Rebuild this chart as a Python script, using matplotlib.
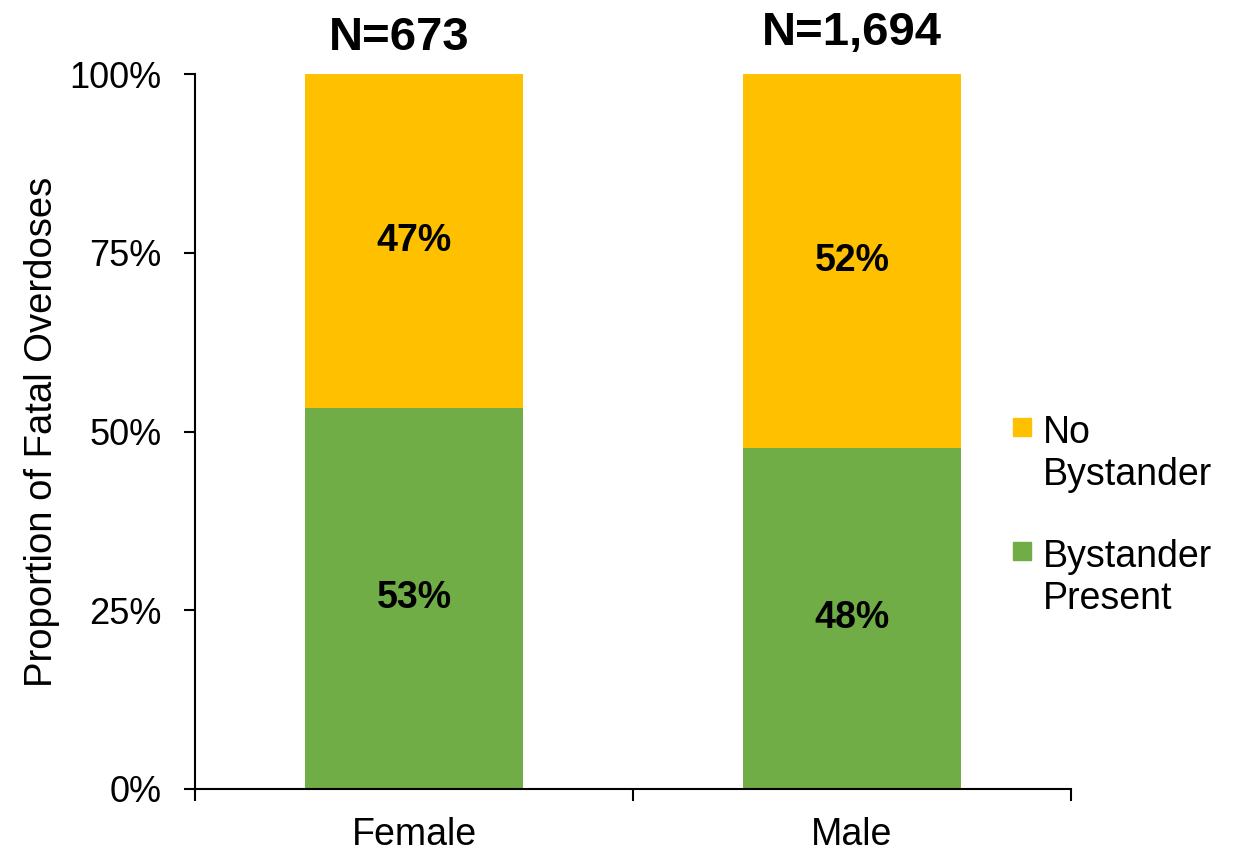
import matplotlib
matplotlib.use("Agg")
import matplotlib.pyplot as plt
from matplotlib.patches import Rectangle
from matplotlib.ticker import FuncFormatter

plt.rcParams['font.family'] = ['Liberation Sans', 'DejaVu Sans']

categories = ["Female", "Male"]
sample_sizes = ["N=673", "N=1,694"]
bystander_present = [53.3, 47.7]
no_bystander = [46.7, 52.3]
legend_lines = [["No", "Bystander"], ["Bystander", "Present"]]
green = "#70AD47"
gold = "#FFC000"

W, H = 1235, 851
fig = plt.figure(figsize=(W / 100, H / 100), dpi=100)
ax = fig.add_axes([195 / W, 1 - 789 / H, 876 / W, 715 / H])

x = range(len(categories))
width = 0.497
ax.bar(x, bystander_present, width, color=green)
ax.bar(x, no_bystander, width, bottom=bystander_present, color=gold)

# header offsets (points) for the N= labels above each bar
header_offsets = [(-11, 17.5), (0, 21)]
for i in x:
    ax.text(i, bystander_present[i] / 2, f"{bystander_present[i]:.0f}%",
            ha="center", va="center", fontsize=27, fontweight="bold")
    ax.text(i, bystander_present[i] + no_bystander[i] / 2, f"{no_bystander[i]:.0f}%",
            ha="center", va="center", fontsize=27, fontweight="bold")
    ax.annotate(sample_sizes[i], xy=(i, 100), xytext=header_offsets[i],
                textcoords="offset points", ha="center", va="baseline",
                fontsize=34, fontweight="bold")

ax.set_xlim(-0.5, 1.5)
ax.set_ylim(0, 100)
ax.set_yticks([0, 25, 50, 75, 100])
ax.yaxis.set_major_formatter(FuncFormatter(lambda v, p: f"{v:.0f}%"))
ax.set_xticks([0, 1])
ax.set_xticklabels(categories)
ax.set_xticks([-0.5, 0.5, 1.5], minor=True)
ax.tick_params(axis="x", which="major", length=0, labelsize=27, pad=20)
ax.tick_params(axis="x", which="minor", length=8.6, width=1.5, direction="out")
ax.tick_params(axis="y", length=8, width=1.5, labelsize=26, pad=16)

for side in ["top", "right"]:
    ax.spines[side].set_visible(False)
for side in ["left", "bottom"]:
    ax.spines[side].set_linewidth(1.5)

ax.set_ylabel("Proportion of Fatal Overdoses", fontsize=27.5)
ax.yaxis.set_label_coords(-0.154, 0.5)

# Legend: square swatch beside the first line of each two-line entry
swatch_colors = [gold, green]
swatch_tops = [418, 542]
for color, top, lines in zip(swatch_colors, swatch_tops, legend_lines):
    fig.add_artist(Rectangle((1013 / W, 1 - (top + 18) / H), 18 / W, 18 / H,
                             transform=fig.transFigure, color=color))
    base = top + 25
    for k, line in enumerate(lines):
        fig.text(1043 / W, 1 - (base + 42 * k) / H, line,
                 ha="left", va="baseline", fontsize=27)

fig.savefig("out.png", dpi=100)
